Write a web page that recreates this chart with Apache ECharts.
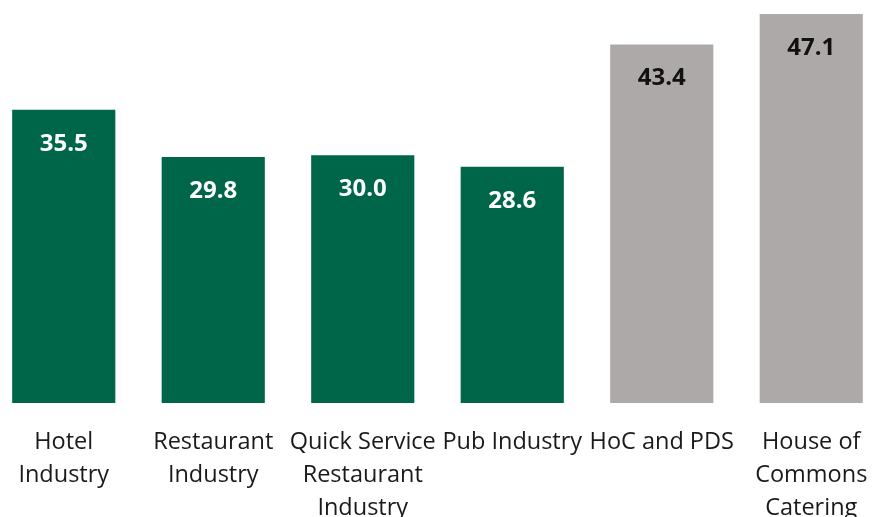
<!DOCTYPE html>
<html><head><meta charset="utf-8">
<script src="https://cdn.jsdelivr.net/npm/echarts@6/dist/echarts.min.js"></script>
<style>html,body{margin:0;padding:0;background:#fff}#c{width:873px;height:517px}</style>
</head><body><div id="c"></div>
<script>
const categories = ["Hotel\nIndustry", "Restaurant\nIndustry", "Quick Service\nRestaurant\nIndustry", "Pub Industry", "HoC and PDS", "House of\nCommons\nCatering"];
const values = [35.5, 29.8, 30.0, 28.6, 43.4, 47.1];
const groups = ["industry", "industry", "industry", "industry", "parliament", "parliament"];
const colors = { industry: "#006649", parliament: "#ada9a8" };
const labelColors = { industry: "#ffffff", parliament: "#111111" };

const chart = echarts.init(document.getElementById('c'));
chart.setOption({
  animation: false,
  grid: { left: -11, width: 897, top: 14, height: 389, containLabel: false, outerBoundsMode: 'none' },
  xAxis: {
    type: 'category', data: categories,
    axisLine: { show: false }, axisTick: { show: false },
    axisLabel: { interval: 0, margin: 23, hideOverlap: false, fontFamily: 'Open Sans', fontSize: 23.5, lineHeight: 33, color: '#1a1a1a' }
  },
  yAxis: { type: 'value', min: 0, max: 47.1, show: false, splitLine: { show: false } },
  series: [{
    type: 'bar', barWidth: '69%',
    data: values.map((v, i) => ({
      value: v,
      itemStyle: { color: colors[groups[i]] },
      label: { color: labelColors[groups[i]] }
    })),
    label: { show: true, position: 'insideTop', distance: 22, fontFamily: 'Open Sans', fontWeight: 'bold', fontSize: 24,
      formatter: p => p.value.toFixed(1) }
  }]
});
</script></body></html>
